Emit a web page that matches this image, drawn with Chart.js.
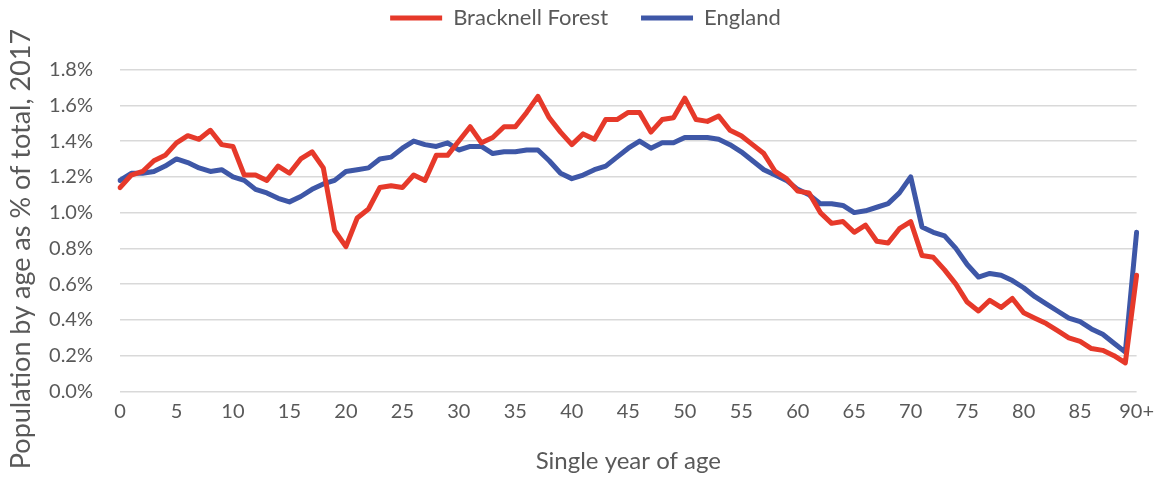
<!DOCTYPE html>
<html>
<head>
<meta charset="utf-8">
<script src="https://cdn.jsdelivr.net/npm/chart.js@4"></script>
<style>
  html, body { margin: 0; padding: 0; background: #ffffff; }
  #wrap { width: 1162px; height: 480px; }
</style>
</head>
<body>
<div id="wrap"><canvas id="myChart" width="1162" height="480"></canvas></div>
<script>
// Single year of age, 0..89 then 90+
var ages = [];
for (var a = 0; a < 90; a++) ages.push(String(a));
ages.push('90+');

// Share of total population at each age, 2017 (%)
var bracknellForest = [
    1.14, 1.21, 1.23, 1.29, 1.32, 1.39, 1.43, 1.41, 1.46, 1.38,
    1.37, 1.21, 1.21, 1.18, 1.26, 1.22, 1.30, 1.34, 1.25, 0.90,
    0.81, 0.97, 1.02, 1.14, 1.15, 1.14, 1.21, 1.18, 1.32, 1.32,
    1.40, 1.48, 1.39, 1.42, 1.48, 1.48, 1.56, 1.65, 1.53, 1.45,
    1.38, 1.44, 1.41, 1.52, 1.52, 1.56, 1.56, 1.45, 1.52, 1.53,
    1.64, 1.52, 1.51, 1.54, 1.46, 1.43, 1.38, 1.33, 1.23, 1.19,
    1.12, 1.11, 1.00, 0.94, 0.95, 0.89, 0.93, 0.84, 0.83, 0.91,
    0.95, 0.76, 0.75, 0.68, 0.60, 0.50, 0.45, 0.51, 0.47, 0.52,
    0.44, 0.41, 0.38, 0.34, 0.30, 0.28, 0.24, 0.23, 0.20, 0.16,
    0.65
];
var england = [
    1.18, 1.22, 1.22, 1.23, 1.26, 1.30, 1.28, 1.25, 1.23, 1.24,
    1.20, 1.18, 1.13, 1.11, 1.08, 1.06, 1.09, 1.13, 1.16, 1.18,
    1.23, 1.24, 1.25, 1.30, 1.31, 1.36, 1.40, 1.38, 1.37, 1.39,
    1.35, 1.37, 1.37, 1.33, 1.34, 1.34, 1.35, 1.35, 1.29, 1.22,
    1.19, 1.21, 1.24, 1.26, 1.31, 1.36, 1.40, 1.36, 1.39, 1.39,
    1.42, 1.42, 1.42, 1.41, 1.38, 1.34, 1.29, 1.24, 1.21, 1.18,
    1.13, 1.10, 1.05, 1.05, 1.04, 1.00, 1.01, 1.03, 1.05, 1.11,
    1.20, 0.92, 0.89, 0.87, 0.80, 0.71, 0.64, 0.66, 0.65, 0.62,
    0.58, 0.53, 0.49, 0.45, 0.41, 0.39, 0.35, 0.32, 0.27, 0.22,
    0.89
];

var yTitle = 'Population by age as % of total, 2017';
var xTitle = 'Single year of age';

var textColor = '#595959';
var fontFamily = "Lato, 'Open Sans', sans-serif";

// keep the legend band a fixed height so the plot starts where it should
var legendHeight = {
    id: 'legendHeight',
    beforeInit: function(chart) {
        var fit = chart.legend.fit;
        chart.legend.fit = function() {
            fit.bind(chart.legend)();
            this.height = 95.5;
        };
    }
};

// vertical axis title, drawn a little below the plot's centre line
var sideTitle = {
    id: 'sideTitle',
    afterDraw: function(chart) {
        var c = chart.ctx;
        c.save();
        c.translate(21, 249);
        c.rotate(-Math.PI / 2);
        c.fillStyle = textColor;
        c.font = '27px ' + fontFamily;
        c.textAlign = 'center';
        c.textBaseline = 'middle';
        c.fillText(yTitle, 0, 0);
        c.restore();
    }
};

var ctx = document.getElementById('myChart').getContext('2d');
var myChart = new Chart(ctx, {
    type: 'line',
    data: {
        labels: ages,
        datasets: [{
            label: 'Bracknell Forest',
            data: bracknellForest,
            borderColor: '#E6392A',
            backgroundColor: '#E6392A',
            borderWidth: 5,
            pointRadius: 0,
            borderJoinStyle: 'round',
            borderCapStyle: 'round',
            tension: 0
        }, {
            label: 'England',
            data: england,
            borderColor: '#3E57A7',
            backgroundColor: '#3E57A7',
            borderWidth: 5,
            pointRadius: 0,
            borderJoinStyle: 'round',
            borderCapStyle: 'round',
            tension: 0
        }]
    },
    options: {
        responsive: false,
        animation: false,
        layout: { padding: { left: 31, right: 22, top: -26, bottom: 0 } },
        plugins: {
            legend: {
                position: 'top',
                labels: {
                    usePointStyle: true,
                    pointStyle: 'line',
                    pointStyleWidth: 52,
                    boxHeight: 5,
                    padding: 33,
                    color: textColor,
                    font: { family: fontFamily, size: 22 }
                }
            },
            tooltip: { enabled: false }
        },
        scales: {
            x: {
                offset: false,
                grid: { display: false, drawTicks: false },
                border: { display: false },
                afterFit: function(scale) { scale.height = 88.5; },
                ticks: {
                    autoSkip: false,
                    maxRotation: 0,
                    padding: 8,
                    color: textColor,
                    font: { family: fontFamily, size: 20 },
                    callback: function(value, index) {
                        return index % 5 === 0 ? ages[index] : '';
                    }
                },
                title: {
                    display: true,
                    text: xTitle,
                    color: textColor,
                    font: { family: fontFamily, size: 24 },
                    padding: { top: 0, bottom: 4 }
                }
            },
            y: {
                min: 0,
                max: 1.8,
                grid: { color: '#D9D9D9', lineWidth: 1.5, drawTicks: false },
                border: { display: false },
                afterFit: function(scale) { scale.width = 89; },
                ticks: {
                    stepSize: 0.2,
                    padding: 27,
                    color: textColor,
                    font: { family: fontFamily, size: 20 },
                    callback: function(value) {
                        return value.toFixed(1) + '%';
                    }
                }
            }
        }
    },
    plugins: [legendHeight, sideTitle]
});
</script>
</body>
</html>
